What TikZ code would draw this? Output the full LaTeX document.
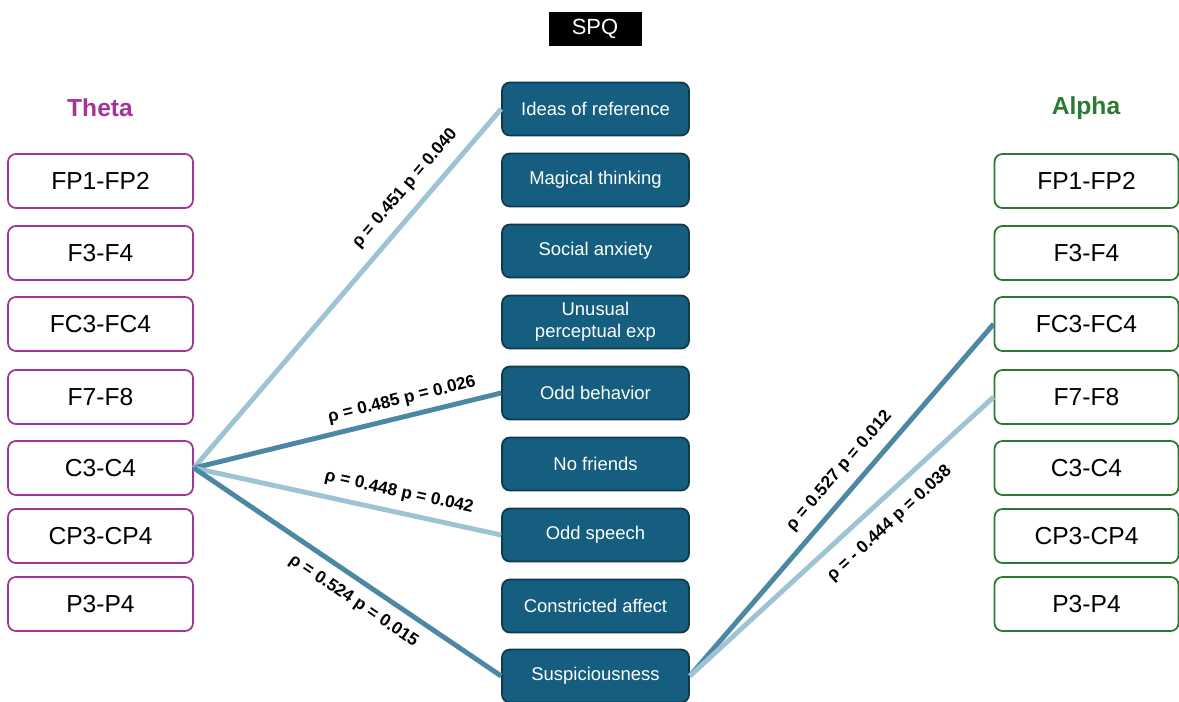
\documentclass[tikz,border=0pt]{standalone}
\usepackage{fontspec}
\setmainfont{Liberation Sans}
\definecolor{thetacol}{HTML}{A5339A}
\definecolor{alphacol}{HTML}{2B7A33}
\definecolor{spqfill}{HTML}{155E80}
\definecolor{spqedge}{HTML}{0E3A4E}
\definecolor{weakline}{HTML}{9EC3D4}
\definecolor{strongline}{HTML}{4C87A4}

\begin{document}
\begin{tikzpicture}[x=0.02cm,y=-0.02cm,
	theta/.style={draw=thetacol,line width=1pt,fill=white,rounded corners=4.5pt,minimum width=3.7cm,minimum height=1.08cm,font=\fontsize{14}{16}\selectfont},
	alpha/.style={draw=alphacol,line width=1pt,fill=white,rounded corners=4.5pt,minimum width=3.68cm,minimum height=1.08cm,font=\fontsize{14}{16}\selectfont},
	trait/.style={draw=spqedge,line width=1pt,fill=spqfill,text=white,rounded corners=4.5pt,minimum width=3.74cm,minimum height=1.06cm,align=center,font=\fontsize{10.5}{12.5}\selectfont},
	weak/.style={draw=weakline,line width=2.8pt},
	strong/.style={draw=strongline,line width=2.8pt},
	rho/.style={sloped,inner sep=0,font=\bfseries\fontsize{9.8}{11}\selectfont}]
	\useasboundingbox (0,0) rectangle (1179,702);
	% headings
	\node[fill=black,text=white,minimum width=1.86cm,minimum height=0.68cm,font=\fontsize{12.5}{14}\selectfont] (spq) at (595,29) {SPQ};
	\node[text=thetacol,font=\bfseries\fontsize{14}{16}\selectfont] (thetahead) at (100,108) {Theta};
	\node[text=alphacol,font=\bfseries\fontsize{14}{16}\selectfont] (alphahead) at (1086,108) {Alpha};
	% theta electrodes
	\node[theta] (t1) at (100.5,181) {FP1-FP2};
	\node[theta] (t2) at (100.5,253) {F3-F4};
	\node[theta] (t3) at (100.5,324) {FC3-FC4};
	\node[theta] (t4) at (100.5,397) {F7-F8};
	\node[theta] (t5) at (100.5,468) {C3-C4};
	\node[theta] (t6) at (100.5,536) {CP3-CP4};
	\node[theta] (t7) at (100.5,604) {P3-P4};
	% SPQ subscales
	\node[trait] (s1) at (595.5,109) {Ideas of reference};
	\node[trait] (s2) at (595.5,180) {Magical thinking};
	\node[trait] (s3) at (595.5,251) {Social anxiety};
	\node[trait] (s4) at (595.5,322) {Unusual\\perceptual exp};
	\node[trait] (s5) at (595.5,393) {Odd behavior};
	\node[trait] (s6) at (595.5,464) {No friends};
	\node[trait] (s7) at (595.5,535) {Odd speech};
	\node[trait] (s8) at (595.5,606) {Constricted affect};
	\node[trait] (s9) at (595.5,676) {Suspiciousness};
	% alpha electrodes
	\node[alpha] (a1) at (1086.5,181) {FP1-FP2};
	\node[alpha] (a2) at (1086.5,253) {F3-F4};
	\node[alpha] (a3) at (1086.5,324) {FC3-FC4};
	\node[alpha] (a4) at (1086.5,397) {F7-F8};
	\node[alpha] (a5) at (1086.5,468) {C3-C4};
	\node[alpha] (a6) at (1086.5,536) {CP3-CP4};
	\node[alpha] (a7) at (1086.5,604) {P3-P4};
	% correlations
	\draw[weak] (t5.east) -- (s1.west) node[rho,pos=0.74,above=0.22cm] {ρ = 0.451 p = 0.040};
	\draw[strong] (t5.east) -- (s5.west) node[rho,pos=0.69,above=0.13cm] {ρ = 0.485 p = 0.026};
	\draw[weak] (t5.east) -- (s7.west) node[rho,pos=0.654,above=0.19cm] {ρ = 0.448 p = 0.042};
	\draw[strong] (t5.east) -- (s9.west) node[rho,pos=0.557,below=0.21cm] {ρ = 0.524 p = 0.015};
	\draw[strong] (s9.east) -- (a3.west) node[rho,pos=0.544,above=0.21cm] {ρ = 0.527 p = 0.012};
	\draw[weak] (s9.east) -- (a4.west) node[rho,pos=0.606,below=0.26cm] {ρ = - 0.444 p = 0.038};
\end{tikzpicture}
\end{document}
